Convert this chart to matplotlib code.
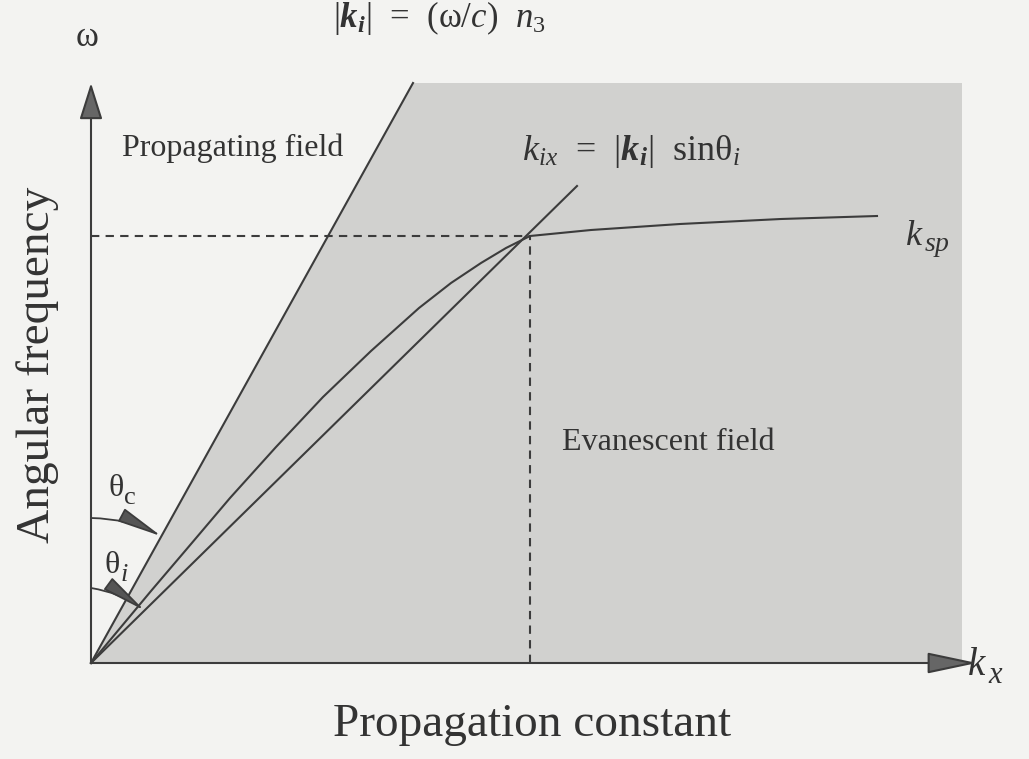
import matplotlib
matplotlib.use('Agg')
import matplotlib.pyplot as plt
from matplotlib.patches import Polygon, FancyArrowPatch

plt.rcParams['font.family'] = ['Liberation Serif', 'DejaVu Serif']
plt.rcParams['mathtext.fontset'] = 'custom'
plt.rcParams['mathtext.rm'] = 'Liberation Serif'
plt.rcParams['mathtext.it'] = 'Liberation Serif:italic'
plt.rcParams['mathtext.bf'] = 'Liberation Serif:bold'
plt.rcParams['mathtext.bfit'] = 'Liberation Serif:bold:italic'

# Dispersion sketch (arbitrary units, origin at k_x = 0, omega = 0)
light_line_k = [0, 322]          # |k_i| = (w/c) n3
light_line_w = [0, 580]
kix_line_k = [0, 486]            # k_ix = |k_i| sin(theta_i)
kix_line_w = [0, 477]
ksp_k = [0, 30, 60, 100, 139, 185, 232, 280, 328, 360, 390, 415, 439, 500, 589, 690, 786]
ksp_w = [0, 36, 72, 119, 165, 216, 266, 312, 355, 380, 400, 415, 427, 433, 439, 444, 447]
k_match = 439                    # crossing of k_ix and k_sp
w_match = 427
k_max = 871                      # right edge of evanescent region
w_max = 580
axis_k_tip = 886
axis_w_tip = 580
r_theta_c = 145                  # arc radii for the angle markers
r_theta_i = 75

line_col = '#3c3c3c'
txt_col = '#333333'
bg_col = '#f3f3f1'
shade_col = '#d1d1cf'

fig = plt.figure(figsize=(10.29, 7.59), dpi=100, facecolor=bg_col)
ax = fig.add_axes([0, 0, 1, 1])
ax.set_facecolor(bg_col)
ax.set_xlim(-91, 938)
ax.set_ylim(-96, 663)
ax.axis('off')

# shaded evanescent region right of the light line
ax.add_patch(Polygon([(0, 0), (light_line_k[1], w_max), (k_max, w_max), (k_max, 0)],
                     closed=True, facecolor=shade_col, edgecolor='none', zorder=1))

ax.plot(light_line_k, light_line_w, color=line_col, lw=1.5, zorder=3)
ax.plot(kix_line_k, kix_line_w, color=line_col, lw=1.5, zorder=3)
ax.plot(ksp_k, ksp_w, color=line_col, lw=1.5, zorder=3, solid_joinstyle='round')

ax.plot([0, k_match], [w_match, w_match], color=line_col, lw=1.5, ls=(0, (4, 3)), zorder=3)
ax.plot([k_match, k_match], [0, w_match], color=line_col, lw=1.5, ls=(0, (4, 3)), zorder=3)

# axes with arrows
ax.annotate('', xy=(axis_k_tip, 0), xytext=(0, 0),
            arrowprops=dict(arrowstyle='-|>,head_length=2.6,head_width=0.55', mutation_scale=12,
                            color=line_col, fc='#666666', lw=1.5, shrinkA=0, shrinkB=0), zorder=4)
ax.annotate('', xy=(0, axis_w_tip), xytext=(0, 0),
            arrowprops=dict(arrowstyle='-|>,head_length=1.9,head_width=0.6', mutation_scale=12,
                            color=line_col, fc='#666666', lw=1.5, shrinkA=0, shrinkB=0), zorder=4)

# angle markers from the omega axis to each line
for r, k_end, w_end in [(r_theta_c, light_line_k[1], light_line_w[1]),
                        (r_theta_i, kix_line_k[1], kix_line_w[1])]:
    s = r / (k_end ** 2 + w_end ** 2) ** 0.5
    arc = FancyArrowPatch((0, r), (k_end * s, w_end * s), connectionstyle='arc3,rad=-0.12',
                          arrowstyle='-|>,head_length=2.8,head_width=0.45', mutation_scale=10,
                          color=line_col, fc='#555555', lw=1.3, shrinkA=0, shrinkB=0, zorder=5)
    ax.add_patch(arc)


def label(x, y, base, sub, fs, sub_fs, ha='left'):
    # base symbol with a large, slightly lowered subscript
    t = ax.text(x, y, base, fontsize=fs, ha=ha, va='baseline', color=txt_col)
    ax.annotate(sub, xy=(1, 0), xycoords=t, xytext=(0.5, -4), textcoords='offset points',
                fontsize=sub_fs, ha='left', va='bottom', color=txt_col)
    return t


ax.text(-4, 625, 'ω', fontsize=25, ha='center', va='center', color=txt_col)
ax.text(348, 645, r'$|\mathbfit{k}_{\mathbfit{i}}|$  =  (ω/$c$)  $n_3$', fontsize=25,
        ha='center', va='center', color=txt_col)
ax.text(31, 515, 'Propagating field', fontsize=23, ha='left', va='center', color=txt_col)
ax.text(540, 511, r'$k_{ix}$  =  $|\mathbfit{k}_{\mathbfit{i}}|$  sinθ$_i$', fontsize=26,
        ha='center', va='center', color=txt_col)
label(814, 418, '$k$', '$sp$', 26, 20)
ax.text(577, 221, 'Evanescent field', fontsize=23, ha='center', va='center', color=txt_col)
label(876, -12, '$k$', '$x$', 28, 22)
label(17, 167, 'θ', 'c', 23, 19)
label(13, 90, 'θ', '$i$', 23, 19)

ax.text(-53, 298, 'Angular frequency', fontsize=34, rotation=90, ha='center', va='center',
        color=txt_col)
ax.text(441, -62, 'Propagation constant', fontsize=34, ha='center', va='center', color=txt_col)

fig.savefig('out.png', dpi=100, facecolor=bg_col)
